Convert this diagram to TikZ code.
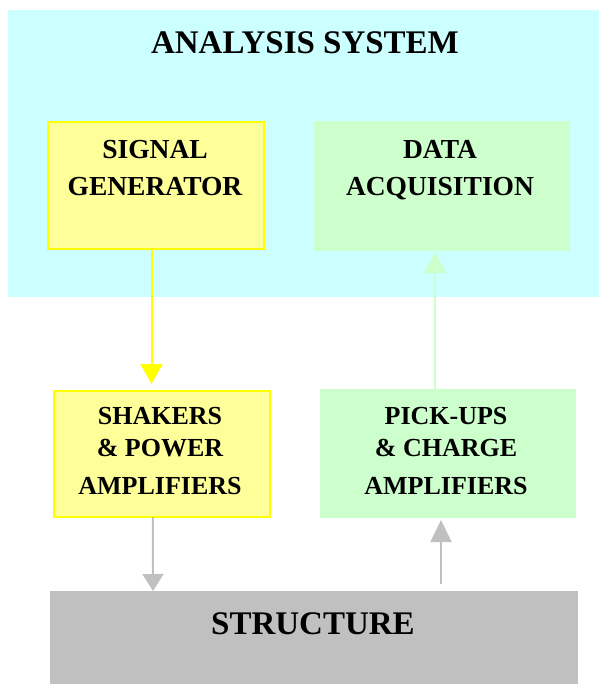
\documentclass[tikz,border=0pt]{standalone}
\usepackage{fontspec}
\setmainfont{Liberation Serif}
\usetikzlibrary{arrows.meta}
\definecolor{cyanbg}{HTML}{CCFFFF}
\definecolor{yelfill}{HTML}{FFFF99}
\definecolor{yelline}{HTML}{FFFF00}
\definecolor{grnfill}{HTML}{CCFFCC}
\definecolor{grayfill}{HTML}{C0C0C0}
\tikzset{
  boxbase/.style={rectangle, anchor=north west, inner sep=0pt, outer sep=0pt},
  yelbox/.style={boxbase, fill=yelfill, draw=yelline, line width=2pt},
  grnbox/.style={boxbase, fill=grnfill},
  graybox/.style={boxbase, fill=grayfill},
  boxtxt/.style={anchor=base, inner sep=0pt, font=\fontsize{27.5}{30}\selectfont\bfseries},
  lowtxt/.style={anchor=base, inner sep=0pt, font=\fontsize{26}{29}\selectfont\bfseries},
  bigtxt/.style={anchor=base, inner sep=0pt, font=\fontsize{33}{36}\selectfont\bfseries},
  conn/.style={line width=2pt},
}
\begin{document}
\begin{tikzpicture}[x=1pt,y=-1pt]
\useasboundingbox (0,0) rectangle (599,685);
% analysis system background
\node[boxbase, fill=cyanbg, minimum width=591pt, minimum height=287pt] (ana) at (8,10) {};
\node[bigtxt] (anatxt) at (305,54) {ANALYSIS SYSTEM};
% boxes
\node[yelbox, minimum width=216.5pt, minimum height=126.5pt] (sig) at (47.5,122) {};
\node[grnbox, minimum width=256pt, minimum height=130pt] (daq) at (314,121) {};
\node[yelbox, minimum width=216.5pt, minimum height=126pt] (shk) at (53.5,391) {};
\node[grnbox, minimum width=256pt, minimum height=129pt] (pick) at (320,389) {};
\node[graybox, minimum width=528pt, minimum height=93pt] (str) at (50,591) {};
% texts
\node[boxtxt] (sig1) at (155,158) {SIGNAL};
\node[boxtxt] (sig2) at (155,195) {GENERATOR};
\node[boxtxt] (daq1) at (440,158) {DATA};
\node[boxtxt] (daq2) at (440,195) {ACQUISITION};
\node[lowtxt] (shk1) at (160,424) {SHAKERS};
\node[lowtxt] (shk2) at (160,456) {\&\ POWER};
\node[lowtxt] (shk3) at (160,494) {AMPLIFIERS};
\node[lowtxt] (pick1) at (446,424) {PICK-UPS};
\node[lowtxt] (pick2) at (446,456) {\&\ CHARGE};
\node[lowtxt] (pick3) at (446,494) {AMPLIFIERS};
\node[bigtxt] (strtxt) at (313,634) {STRUCTURE};
% connectors
\draw[conn, draw=yelline, fill=yelline, -{Triangle[length=20pt,width=22pt]}, shorten >=7pt]
  ([xshift=-4.25pt]sig.south) -- ([xshift=-10.25pt]shk.north);
\draw[conn, draw=grnfill, fill=grnfill, -{Triangle[length=21pt,width=22pt]}, shorten >=1pt]
  ([xshift=-13pt]pick.north) -- ([xshift=-7pt]daq.south);
\draw[conn, draw=grayfill, fill=grayfill, -{Triangle[length=17pt,width=21pt]}]
  ([xshift=-9pt]shk.south) -- ([xshift=-161pt]str.north);
\draw[conn, draw=grayfill, fill=grayfill, -{Triangle[length=22pt,width=21pt]}, shorten <=7pt, shorten >=2pt]
  ([xshift=127pt]str.north) -- ([xshift=-7pt]pick.south);
\end{tikzpicture}
\end{document}
